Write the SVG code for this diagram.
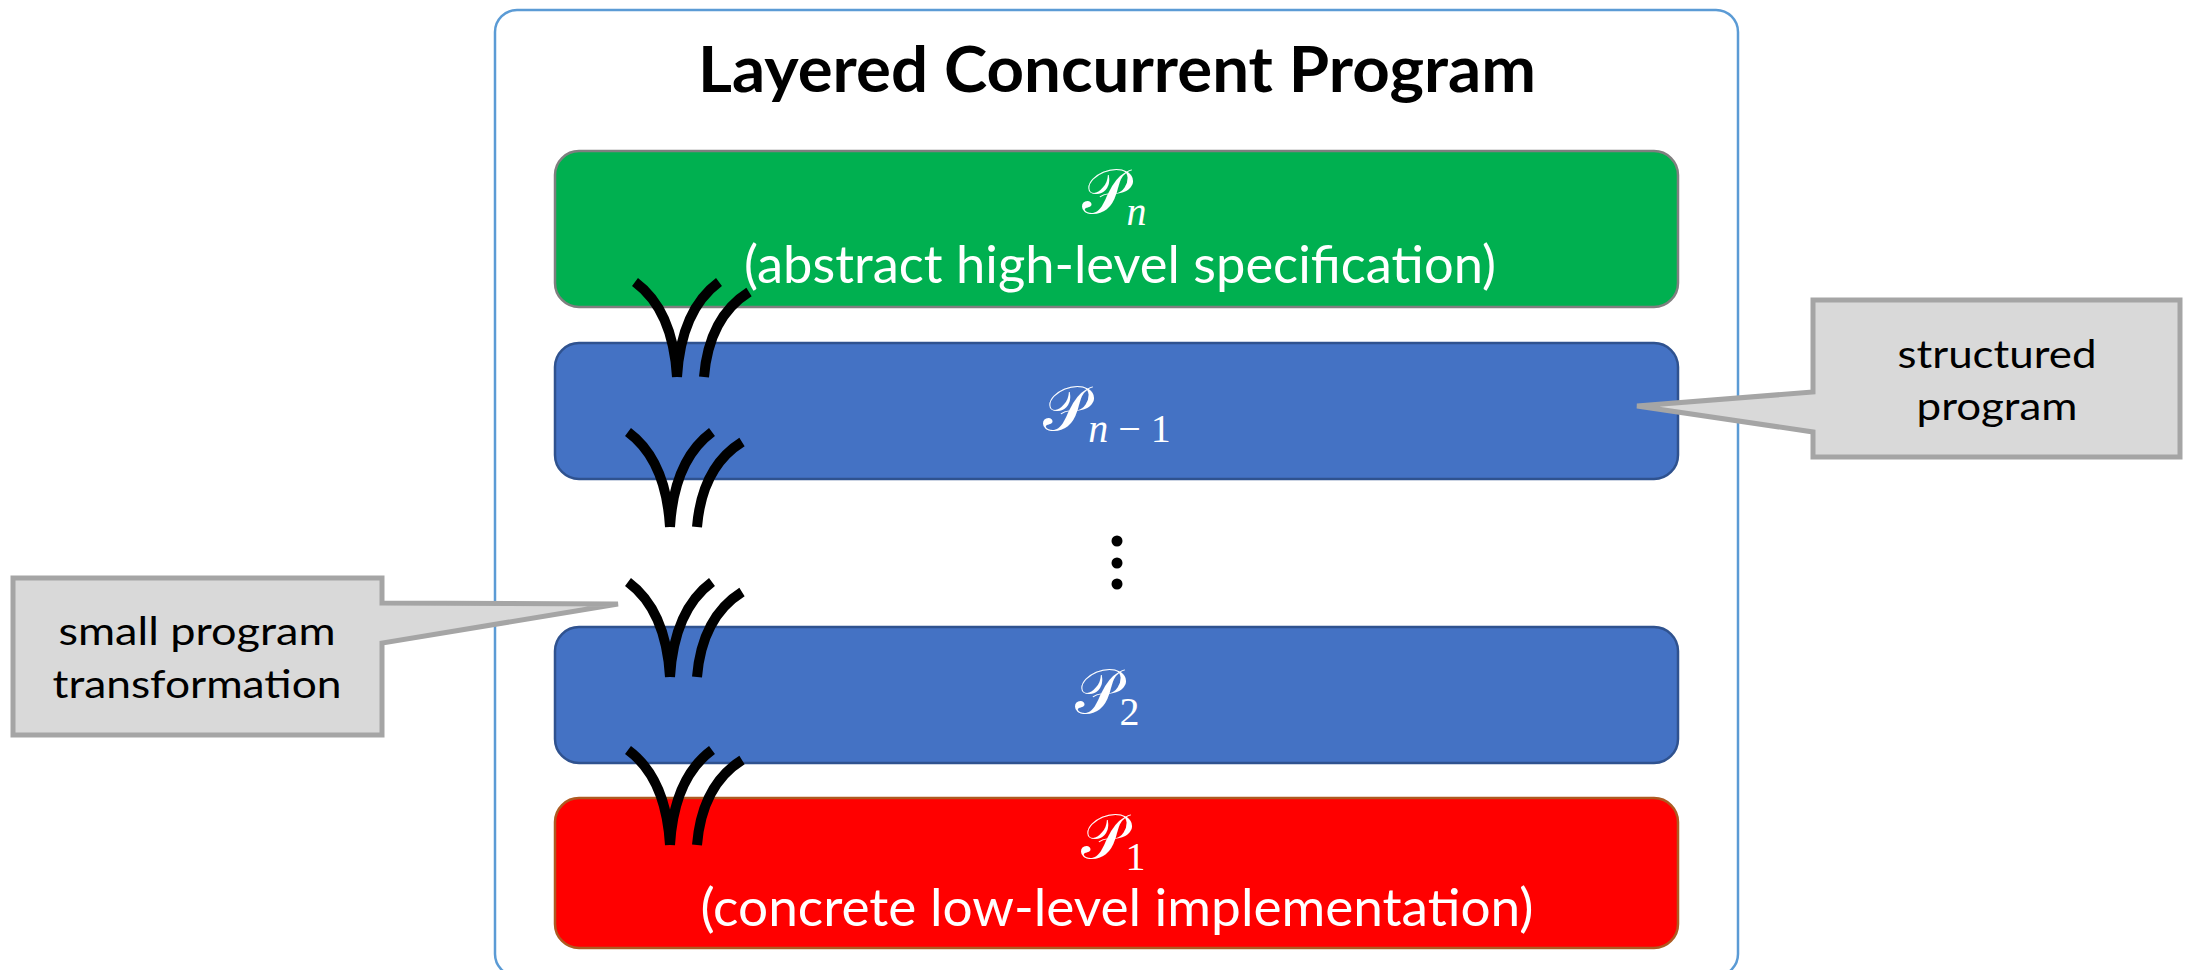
<svg xmlns="http://www.w3.org/2000/svg" xmlns:xlink="http://www.w3.org/1999/xlink" width="2185" height="970" viewBox="0 0 2185 970">
  <style>
    .frame { fill: #FFFFFF; stroke: #5B9BD5; stroke-width: 2.5; }
    .layer { stroke-width: 2.5; }
    .spec { fill: #00B050; stroke: #7F7F7F; }
    .mid { fill: #4472C4; stroke: #2F528F; }
    .impl { fill: #FF0000; stroke: #AE5A21; }
    .title { font-family: Lato, "Open Sans", sans-serif; font-weight: bold; font-size: 64px; fill: #000000; }
    .body { font-family: Lato, "Open Sans", sans-serif; font-size: 52px; fill: #FFFFFF; }
    .label { fill: #FFFFFF; }
    .math { font-family: "DejaVu Serif", "Liberation Serif", serif; font-size: 62px; }
    .sub { font-family: "Liberation Serif", serif; font-size: 40px; }
    .callout { fill: #D9D9D9; stroke: #A5A5A5; stroke-width: 5; stroke-linejoin: miter; }
    .note { font-family: Lato, "Open Sans", sans-serif; font-size: 39px; fill: #000000; }
    .mark { fill: none; stroke: #000000; stroke-width: 10; stroke-linecap: butt; }
  </style>
  <defs>
    <!-- refinement mark: a V of two curves plus a trailing curve -->
    <g id="refine-mark">
      <path class="mark" d="M0,0 Q38,28 42,95"/>
      <path class="mark" d="M84,0 Q46,28 42,95"/>
      <path class="mark" d="M114,10 Q74,35 69,95"/>
    </g>
  </defs>

  <g id="frame">
    <rect class="frame" x="495" y="10" width="1243" height="966" rx="22" ry="22"/>
    <text class="title" x="1117" y="92" text-anchor="middle" textLength="838" lengthAdjust="spacingAndGlyphs">Layered Concurrent Program</text>
  </g>

  <g id="layer-n">
    <rect class="layer spec" x="555" y="151" width="1123" height="156" rx="24" ry="24"/>
    <text class="label" x="1114" y="213" text-anchor="middle"><tspan class="math">𝒫</tspan><tspan class="sub" font-style="italic" dy="12">n</tspan></text>
    <text class="body" x="1120" y="283" text-anchor="middle" textLength="752" lengthAdjust="spacingAndGlyphs">(abstract high-level specification)</text>
  </g>

  <g id="layer-n-1">
    <rect class="layer mid" x="555" y="343" width="1123" height="136" rx="24" ry="24"/>
    <text class="label" x="1107" y="430" text-anchor="middle"><tspan class="math">𝒫</tspan><tspan class="sub" dy="12"><tspan font-style="italic">n</tspan> − 1</tspan></text>
  </g>

  <g id="ellipsis">
    <circle cx="1117" cy="541" r="5.5" fill="#000000"/>
    <circle cx="1117" cy="563" r="5.5" fill="#000000"/>
    <circle cx="1117" cy="584" r="5.5" fill="#000000"/>
  </g>

  <g id="layer-2">
    <rect class="layer mid" x="555" y="627" width="1123" height="136" rx="24" ry="24"/>
    <text class="label" x="1107" y="713" text-anchor="middle"><tspan class="math">𝒫</tspan><tspan class="sub" dy="12">2</tspan></text>
  </g>

  <g id="layer-1">
    <rect class="layer impl" x="555" y="798" width="1123" height="150" rx="24" ry="24"/>
    <text class="label" x="1113" y="858" text-anchor="middle"><tspan class="math">𝒫</tspan><tspan class="sub" dy="12">1</tspan></text>
    <text class="body" x="1117" y="926" text-anchor="middle" textLength="833" lengthAdjust="spacingAndGlyphs">(concrete low-level implementation)</text>
  </g>

  <g id="callout-structured">
    <path class="callout" d="M1813,300 H2180 V457 H1813 V432 L1637,406 L1813,392 Z"/>
    <text class="note" x="1997" y="368" text-anchor="middle" textLength="199" lengthAdjust="spacingAndGlyphs">structured</text>
    <text class="note" x="1997" y="420" text-anchor="middle" textLength="161" lengthAdjust="spacingAndGlyphs">program</text>
  </g>

  <g id="callout-transformation">
    <path class="callout" d="M13,578 H382 V603 L618,604 L382,643 V735 H13 Z"/>
    <text class="note" x="197" y="645" text-anchor="middle" textLength="277" lengthAdjust="spacingAndGlyphs">small program</text>
    <text class="note" x="197" y="698" text-anchor="middle" textLength="289" lengthAdjust="spacingAndGlyphs">transformation</text>
  </g>

  <g id="connectors">
    <use xlink:href="#refine-mark" transform="translate(635,282)"/>
    <use xlink:href="#refine-mark" transform="translate(628,432)"/>
    <use xlink:href="#refine-mark" transform="translate(628,582)"/>
    <use xlink:href="#refine-mark" transform="translate(628,750)"/>
  </g>
</svg>
